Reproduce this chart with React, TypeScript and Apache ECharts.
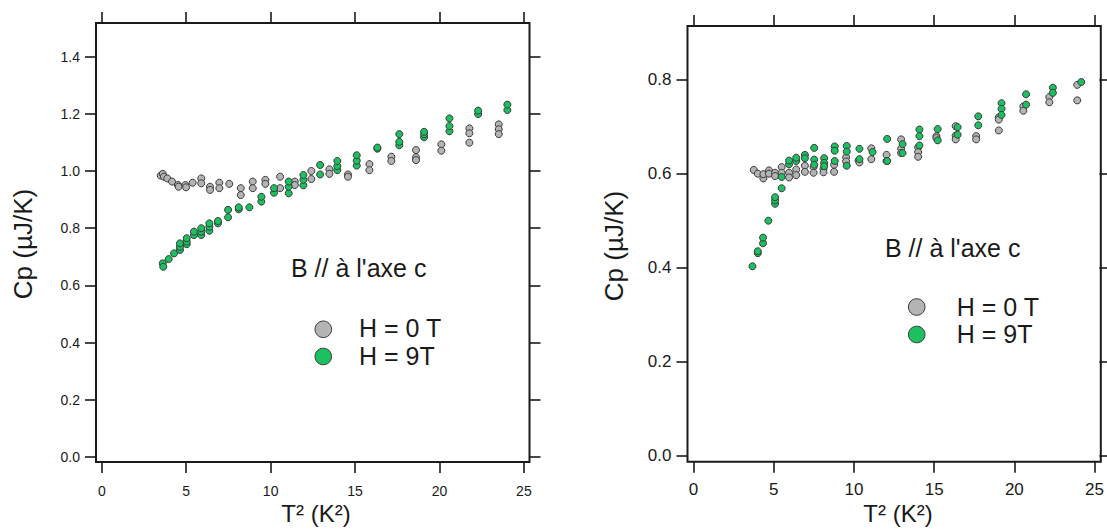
import React, { useEffect, useRef } from "react";
import * as echarts from "echarts";

// ---------- data (T² in K², Cp in µJ/K) ----------
const leftZeroField: [number, number][] = [
  [3.49, 0.984], [3.61, 0.99], [3.68, 0.98], [3.88, 0.974], [4.16, 0.963],
  [4.51, 0.951], [4.55, 0.945], [4.95, 0.951], [4.99, 0.943], [5.38, 0.959],
  [5.89, 0.974], [5.89, 0.957], [6.41, 0.945], [6.41, 0.934], [6.96, 0.959],
  [6.96, 0.94], [7.55, 0.955], [8.23, 0.94], [8.23, 0.916], [8.94, 0.963],
  [8.94, 0.94], [9.69, 0.969], [9.69, 0.955], [10.56, 0.98], [10.56, 0.94],
  [11.43, 0.963], [11.43, 0.951], [12.41, 1.0], [12.41, 0.972], [13.48, 1.006],
  [13.48, 0.99], [14.58, 0.988], [14.58, 0.98], [15.85, 1.024], [15.85, 1.003],
  [17.15, 1.05], [17.15, 1.035], [18.61, 1.073], [18.61, 1.048], [18.61, 1.038],
  [20.11, 1.093], [20.11, 1.071], [21.77, 1.149], [21.77, 1.132], [21.77, 1.099],
  [23.51, 1.163], [23.51, 1.146], [23.51, 1.129],
];

const leftNineTesla: [number, number][] = [
  [3.61, 0.677], [3.64, 0.665], [3.96, 0.692], [4.28, 0.712], [4.63, 0.724],
  [4.63, 0.735], [4.63, 0.747], [5.03, 0.744], [5.03, 0.753], [5.03, 0.765],
  [5.46, 0.776], [5.46, 0.788], [5.89, 0.776], [5.89, 0.788], [5.89, 0.8],
  [6.37, 0.791], [6.37, 0.805], [6.37, 0.817], [6.88, 0.817], [6.88, 0.825],
  [7.48, 0.838], [7.48, 0.864], [8.11, 0.866], [8.11, 0.873], [8.74, 0.873],
  [9.45, 0.893], [9.45, 0.91], [10.2, 0.924], [10.2, 0.94], [11.07, 0.922],
  [11.07, 0.945], [11.07, 0.963], [11.94, 0.95], [11.94, 0.969], [11.94, 0.986],
  [12.93, 0.988], [12.93, 1.021], [13.95, 1.003], [13.95, 1.017], [13.95, 1.035],
  [15.1, 1.019], [15.1, 1.036], [15.1, 1.055], [16.32, 1.078], [16.32, 1.082],
  [17.62, 1.09], [17.62, 1.102], [17.62, 1.129], [19.09, 1.118], [19.09, 1.128],
  [19.09, 1.137], [20.59, 1.139], [20.59, 1.157], [20.59, 1.184], [22.29, 1.199],
  [22.29, 1.211], [24.02, 1.213], [24.02, 1.232],
];

const rightZeroField: [number, number][] = [
  [3.75, 0.608], [4.0, 0.6], [4.35, 0.59], [4.35, 0.599], [4.7, 0.607],
  [4.7, 0.6], [5.08, 0.602], [5.08, 0.595], [5.49, 0.614], [5.49, 0.602],
  [5.95, 0.602], [5.95, 0.592], [6.4, 0.609], [6.4, 0.597], [6.94, 0.617],
  [6.94, 0.604], [7.48, 0.614], [7.48, 0.602], [8.1, 0.61], [8.1, 0.603],
  [8.76, 0.619], [8.76, 0.604], [9.51, 0.635], [9.51, 0.626], [10.29, 0.628],
  [10.34, 0.624], [11.08, 0.654], [11.08, 0.631], [12.03, 0.64], [12.03, 0.627],
  [12.94, 0.673], [12.94, 0.653], [12.94, 0.644], [14.0, 0.656], [14.0, 0.646],
  [14.0, 0.636], [15.14, 0.68], [15.14, 0.676], [16.34, 0.701], [16.34, 0.681],
  [16.34, 0.673], [17.62, 0.68], [17.62, 0.673], [19.03, 0.72], [19.03, 0.715],
  [19.03, 0.692], [20.56, 0.743], [20.56, 0.734], [22.18, 0.763], [22.18, 0.752],
  [23.92, 0.789], [23.92, 0.756],
];

const rightNineTesla: [number, number][] = [
  [3.67, 0.403], [4.0, 0.431], [4.0, 0.435], [4.33, 0.452], [4.33, 0.464],
  [4.66, 0.5], [5.08, 0.536], [5.08, 0.543], [5.08, 0.55], [5.49, 0.569],
  [5.49, 0.593], [5.95, 0.62], [5.95, 0.628], [6.4, 0.627], [6.4, 0.634],
  [6.94, 0.64], [6.94, 0.633], [7.52, 0.655], [7.52, 0.63], [7.52, 0.619],
  [8.14, 0.633], [8.14, 0.623], [8.14, 0.616], [8.8, 0.658], [8.8, 0.649],
  [8.8, 0.627], [9.55, 0.659], [9.55, 0.647], [9.55, 0.617], [10.34, 0.653],
  [10.34, 0.631], [11.16, 0.646], [12.07, 0.674], [12.07, 0.627], [13.03, 0.663],
  [13.03, 0.644], [14.08, 0.694], [14.08, 0.68], [14.08, 0.66], [15.22, 0.695],
  [15.22, 0.671], [16.46, 0.699], [16.46, 0.683], [17.75, 0.722], [17.75, 0.703],
  [19.2, 0.75], [19.2, 0.738], [19.2, 0.725], [20.73, 0.769], [20.73, 0.747],
  [22.4, 0.783], [22.4, 0.772], [24.17, 0.808], [24.17, 0.795],
];

const xTitle = "T² (K²)";
const yTitle = "Cp (µJ/K)";
const noteText = "B // à l'axe c";
const legendZero = "H = 0 T";
const legendNine = "H = 9T";

// ---------- styling ----------
const FONT = "'Liberation Sans', Arial, Helvetica, sans-serif";
const INK = "#1a1a1a";
const GRAY = "#b4b4b4";
const GREEN = "#1cc061";
const EDGE = "#3a3a3a";

function tickAxis(opts: any) {
  return {
    type: "value",
    splitLine: { show: false },
    axisLine: { show: false, onZero: false },
    axisTick: { show: true, inside: false, length: 11, lineStyle: { color: INK, width: 1.6 } },
    ...opts,
  };
}

export default function App() {
  const ref = useRef<HTMLDivElement>(null);

  useEffect(() => {
    if (!ref.current) return;
    const chart = echarts.init(ref.current, undefined, { renderer: "svg" });

    const pt = {
      symbol: "circle",
      symbolSize: 7,
    };

    const textStyle = (text: string, size: number, align: string) => ({
      text, font: `${size}px ${FONT}`, fill: INK, align, verticalAlign: "middle",
    });

    const option: any = {
      animation: false,
      backgroundColor: "#ffffff",
      grid: [
        { left: 101.8, top: 56.6, width: 422.1, height: 400.4 },
        { left: 693.6, top: 79.7, width: 402.4, height: 376 },
      ],
      xAxis: [
        tickAxis({
          gridIndex: 0, position: "bottom", offset: 5, min: 0, max: 25, interval: 5,
          axisLabel: { show: true, margin: 22, fontSize: 14, color: INK, fontFamily: FONT },
        }),
        tickAxis({
          gridIndex: 0, position: "top", offset: 33.6, min: 0, max: 25, interval: 5,
          axisLabel: { show: false },
        }),
        tickAxis({
          gridIndex: 1, position: "bottom", offset: 6.1, min: 0, max: 25, interval: 5,
          axisLabel: { show: true, margin: 19, fontSize: 17, color: INK, fontFamily: FONT },
        }),
        tickAxis({
          gridIndex: 1, position: "top", offset: 53.7, min: 0, max: 25, interval: 5,
          axisLabel: { show: false },
        }),
      ],
      yAxis: [
        tickAxis({
          gridIndex: 0, position: "left", offset: 5.8, min: 0, max: 1.4, interval: 0.2,
          axisLabel: {
            show: true, margin: 16, fontSize: 14, color: INK, fontFamily: FONT,
            formatter: (v: number) => v.toFixed(1),
          },
        }),
        tickAxis({
          gridIndex: 0, position: "right", offset: 5.6, min: 0, max: 1.4, interval: 0.2,
          axisLabel: { show: false },
        }),
        tickAxis({
          gridIndex: 1, position: "left", offset: 6.1, min: 0, max: 0.8, interval: 0.2,
          axisLabel: {
            show: true, margin: 16, fontSize: 17, color: INK, fontFamily: FONT,
            formatter: (v: number) => v.toFixed(1),
          },
        }),
        tickAxis({
          gridIndex: 1, position: "right", offset: 4.8, min: 0, max: 0.8, interval: 0.2,
          axisLabel: { show: false },
        }),
      ],
      series: [
        {
          type: "scatter", xAxisIndex: 0, yAxisIndex: 0, data: leftZeroField, ...pt,
          itemStyle: { color: GRAY, borderColor: EDGE, borderWidth: 1, opacity: 1 },
        },
        {
          type: "scatter", xAxisIndex: 0, yAxisIndex: 0, data: leftNineTesla, ...pt,
          itemStyle: { color: GREEN, borderColor: EDGE, borderWidth: 1, opacity: 1 },
        },
        {
          type: "scatter", xAxisIndex: 2, yAxisIndex: 2, data: rightZeroField, ...pt,
          itemStyle: { color: GRAY, borderColor: EDGE, borderWidth: 1, opacity: 1 },
        },
        {
          type: "scatter", xAxisIndex: 2, yAxisIndex: 2, data: rightNineTesla, ...pt,
          itemStyle: { color: GREEN, borderColor: EDGE, borderWidth: 1, opacity: 1 },
        },
      ],
      graphic: [
        // plot frames
        {
          type: "rect", z: 10, silent: true,
          shape: { x: 96, y: 23, width: 433.5, height: 439 },
          style: { fill: "none", stroke: INK, lineWidth: 2 },
        },
        {
          type: "rect", z: 10, silent: true,
          shape: { x: 687.5, y: 26, width: 413.3, height: 435.8 },
          style: { fill: "none", stroke: INK, lineWidth: 2 },
        },
        // axis titles
        { type: "text", x: 316, y: 513, style: textStyle(xTitle, 24, "center") },
        { type: "text", x: 898, y: 513, style: textStyle(xTitle, 24, "center") },
        { type: "text", x: 23, y: 244, rotation: Math.PI / 2, style: textStyle(yTitle, 26, "center") },
        { type: "text", x: 614, y: 246, rotation: Math.PI / 2, style: textStyle(yTitle, 26, "center") },
        // left annotations
        { type: "text", x: 291, y: 268, style: textStyle(noteText, 25, "left") },
        {
          type: "circle", shape: { cx: 323.3, cy: 329.3, r: 8.3 },
          style: { fill: GRAY, stroke: EDGE, lineWidth: 1 },
        },
        {
          type: "circle", shape: { cx: 323.3, cy: 356.5, r: 8.3 },
          style: { fill: GREEN, stroke: EDGE, lineWidth: 1 },
        },
        { type: "text", x: 359, y: 328, style: textStyle(legendZero, 25, "left") },
        { type: "text", x: 359, y: 356, style: textStyle(legendNine, 25, "left") },
        // right annotations
        { type: "text", x: 885, y: 248, style: textStyle(noteText, 25, "left") },
        {
          type: "circle", shape: { cx: 916.7, cy: 307, r: 8.3 },
          style: { fill: GRAY, stroke: EDGE, lineWidth: 1 },
        },
        {
          type: "circle", shape: { cx: 916.7, cy: 334.5, r: 8.3 },
          style: { fill: GREEN, stroke: EDGE, lineWidth: 1 },
        },
        { type: "text", x: 956.7, y: 306.5, style: textStyle(legendZero, 25, "left") },
        { type: "text", x: 956.7, y: 334, style: textStyle(legendNine, 25, "left") },
      ],
    };

    chart.setOption(option);
    return () => chart.dispose();
  }, []);

  return (
    <div
      ref={ref}
      style={{ position: "fixed", left: 0, top: 0, width: 1107, height: 530, background: "#fff" }}
    />
  );
}
